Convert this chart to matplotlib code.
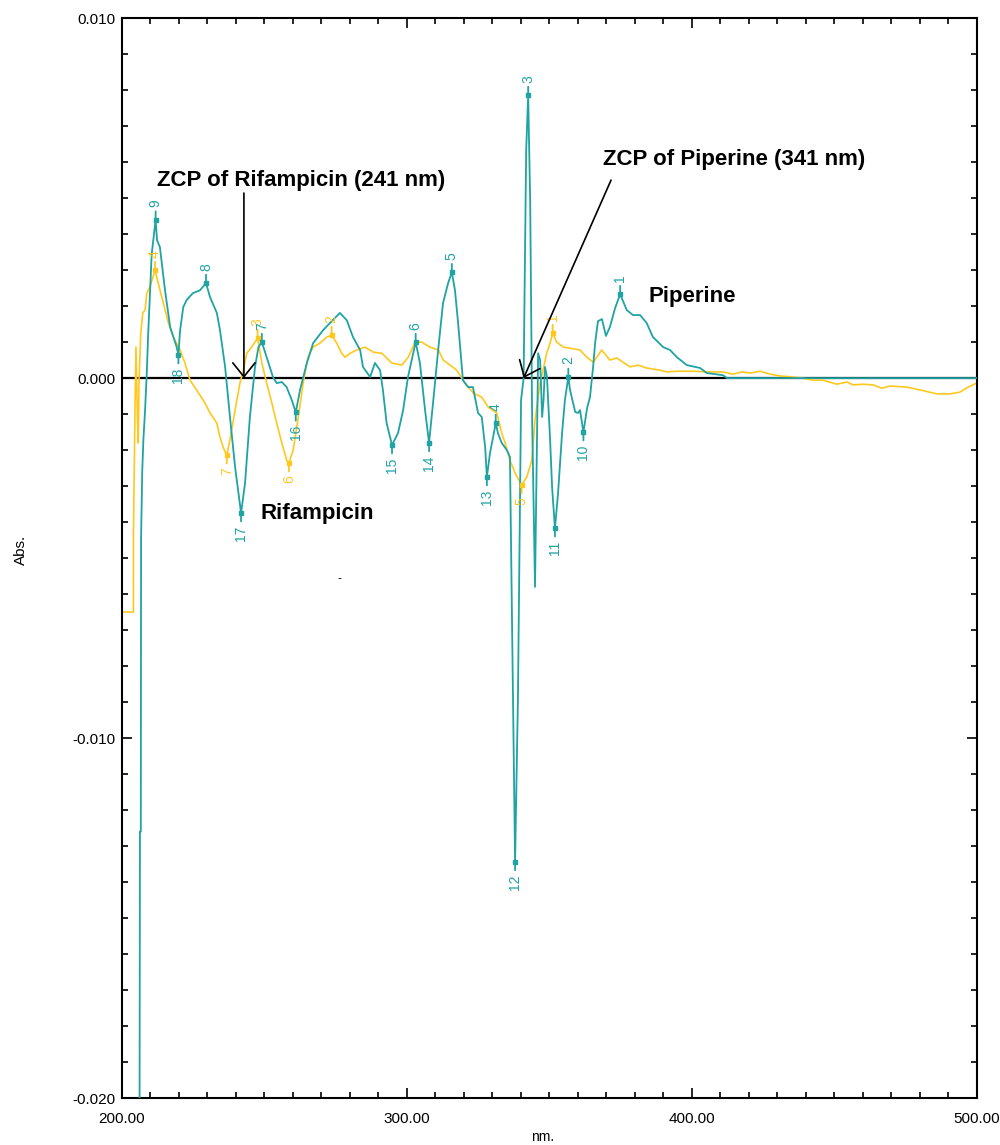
import matplotlib
matplotlib.use("Agg")
import matplotlib.pyplot as plt
from matplotlib.ticker import MultipleLocator, FixedLocator, FuncFormatter

# first derivative spectrum of the mixture (teal) and of rifampicin (yellow)
teal_nm = [206.0, 206.3, 206.6, 206.7, 207.1, 207.5, 208.1, 208.7, 209.2, 209.8, 210.4, 211.8,
           212.3, 213.3, 215.1, 216.9, 219.2, 219.8, 220.4, 221.5, 222.7, 224.9, 227.4, 229.5,
           230.9, 233.3, 234.4, 236.2, 237.9, 239.7, 241.8, 243.2, 244.9, 246.7, 247.9, 249.1,
           250.8, 253.0, 254.3, 256.1, 257.8, 259.6, 261.0, 262.5, 264.9, 267.1, 270.6, 273.0,
           276.5, 278.9, 281.1, 283.6, 284.6, 287.1, 288.8, 290.6, 291.6, 292.9, 294.8, 296.9,
           298.7, 300.4, 303.1, 304.6, 306.4, 307.8, 309.2, 311.0, 312.7, 314.5, 315.8, 316.9,
           318.0, 319.7, 321.5, 323.2, 325.0, 326.3, 327.5, 328.1, 329.2, 330.3, 331.2, 332.0,
           333.3, 335.1, 336.2, 337.3, 338.0, 339.0, 340.1, 341.0, 341.9, 342.6, 343.3, 344.0,
           345.0, 346.1, 346.8, 347.5, 348.0, 348.5, 349.2, 350.3, 351.0, 352.0, 353.1, 354.5,
           355.5, 356.7, 357.3, 359.1, 360.1, 360.8, 362.0, 363.3, 364.3, 365.4, 366.1, 367.1,
           368.5, 369.9, 371.3, 373.1, 374.9, 377.2, 379.4, 381.9, 384.2, 386.4, 390.0, 392.4,
           394.8, 398.3, 403.0, 405.3, 411.0, 412.4, 500.0]
teal_abs = [-0.0300, -0.0126, -0.0126, -0.00444, -0.00261, -0.00172, -0.00089, 0.00014, 0.00125,
            0.0023, 0.00342, 0.0044, 0.00383, 0.00364, 0.00244, 0.00142, 0.00086, 0.00064,
            0.00133, 0.00197, 0.00217, 0.00236, 0.00244, 0.00264, 0.00225, 0.00181, 0.00133,
            0.00031, -0.00108, -0.00247, -0.00375, -0.00292, -0.00108, 0.00031, 0.00086, 0.0010,
            0.00058, 0.00003, -0.00014, -0.00011, -0.00025, -0.00061, -0.00095, -0.00033, 0.00042,
            0.00097, 0.00133, 0.00153, 0.00181, 0.00161, 0.00114, 0.00078, 0.00031, 0.00003,
            0.00042, 0.00022, -0.00033, -0.00125, -0.00186, -0.00153, -0.00089, 0.00003, 0.0010,
            0.00042, -0.00089, -0.0018, -0.00069, 0.00078, 0.00208, 0.00264, 0.00294, 0.00244,
            0.00153, -0.00006, -0.00025, -0.00025, -0.00097, -0.00108, -0.00192, -0.00275,
            -0.00208, -0.00164, -0.00125, -0.00153, -0.0018, -0.0020, -0.00219, -0.00894,
            -0.01344, -0.00894, -0.00061, 0.0, 0.00633, 0.00786, 0.00494, -0.00117, -0.0058,
            0.00069, 0.0005, -0.00108, -0.00061, 0.00031, 0.00003, -0.00172, -0.00303, -0.00417,
            -0.00319, -0.00153, -0.00061, 0.00003, -0.00033, -0.00094, -0.00097, -0.00089, -0.0015,
            -0.00083, -0.00053, 0.00031, 0.00097, 0.00158, 0.00164, 0.00117, 0.00142, 0.00194,
            0.00233, 0.00189, 0.00175, 0.00175, 0.00153, 0.00114, 0.00086, 0.00078, 0.00058,
            0.00036, 0.00028, 0.00014, 0.00008, 0.0, 0.0]

yellow_nm = [200.0, 204.0, 204.0, 204.6, 204.9, 205.4, 205.7, 206.0, 206.6, 207.3, 208.1, 208.7,
             209.8, 211.6, 212.7, 214.5, 216.3, 218.0, 220.4, 222.1, 223.9, 226.2, 229.1, 230.9,
             233.3, 234.4, 235.6, 236.8, 237.9, 239.7, 241.4, 242.6, 243.8, 245.5, 247.6, 249.1,
             250.8, 252.6, 254.3, 256.1, 257.8, 258.6, 260.1, 261.9, 263.6, 265.3, 267.1, 269.5,
             271.9, 273.6, 275.4, 277.1, 278.3, 280.1, 282.4, 285.3, 288.2, 291.2, 294.7, 298.2,
             300.5, 302.9, 305.2, 308.1, 311.1, 312.8, 315.2, 317.5, 320.4, 323.4, 326.3, 328.6,
             331.6, 333.3, 334.5, 336.2, 338.0, 340.3, 342.1, 343.9, 345.0, 346.8, 349.1, 350.3,
             351.2, 352.6, 355.0, 357.3, 360.8, 363.2, 365.5, 368.4, 371.3, 373.7, 375.9, 378.4,
             381.2, 384.2, 388.9, 391.3, 394.8, 400.6, 406.5, 411.0, 414.5, 417.6, 420.5, 424.0,
             427.5, 431.0, 435.6, 439.1, 442.6, 446.1, 451.0, 454.5, 456.7, 460.2, 463.7, 466.7,
             469.7, 475.5, 480.2, 486.1, 490.7, 494.2, 497.1, 500.0]
yellow_abs = [-0.0065, -0.0065, -0.00442, -0.00069, 0.00086, -0.00108, -0.0018, 0.0, 0.00125,
              0.00181, 0.00189, 0.00236, 0.00253, 0.0030, 0.00264, 0.00208, 0.00153, 0.00114,
              0.00078, 0.00042, -0.00006, -0.00033, -0.00069, -0.00097, -0.00125, -0.00164,
              -0.00194, -0.00214, -0.00172, -0.00089, -0.00014, 0.00022, 0.00069, 0.00086, 0.00111,
              0.00042, -0.00014, -0.00069, -0.00125, -0.0018, -0.00228, -0.00236, -0.0020, -0.00108,
              -0.00014, 0.00058, 0.00086, 0.00097, 0.00114, 0.00119, 0.00097, 0.00069, 0.00058,
              0.00069, 0.00078, 0.00086, 0.00072, 0.00069, 0.00042, 0.00036, 0.00058, 0.0010,
              0.0010, 0.00086, 0.00078, 0.0005, 0.00036, 0.00022, -0.00014, -0.00042, -0.00053,
              -0.00081, -0.00097, -0.00153, -0.0018, -0.00228, -0.00264, -0.00297, -0.00275,
              -0.00228, -0.00117, -0.00014, 0.00069, 0.00097, 0.00125, 0.0010, 0.00086, 0.00083,
              0.00078, 0.00058, 0.00044, 0.00078, 0.0005, 0.00056, 0.00044, 0.00031, 0.00036,
              0.00028, 0.00022, 0.00017, 0.00019, 0.00019, 0.00017, 0.00017, 0.00011, 0.00017,
              0.00014, 0.00019, 0.00011, 0.00006, 0.00003, 0.0, -0.00006, -0.00006, -0.00017,
              -0.00011, -0.00019, -0.00017, -0.00019, -0.00028, -0.00022, -0.00025, -0.00033,
              -0.00044, -0.00044, -0.00039, -0.00025, -0.00014]

# peak pick tables: label, wavelength, value
teal_peak_labels = ["1", "2", "3", "4", "5", "6", "7", "8", "9"]
teal_peak_nm = [374.9, 356.7, 342.6, 331.2, 315.8, 303.1, 249.1, 229.5, 211.8]
teal_peak_abs = [0.00233, 0.00003, 0.00786, -0.00125, 0.00294, 0.0010, 0.0010, 0.00264, 0.0044]
teal_valley_labels = ["10", "11", "12", "13", "14", "15", "16", "17", "18"]
teal_valley_nm = [362.0, 352.0, 338.0, 328.1, 307.8, 294.8, 261.0, 241.8, 219.8]
teal_valley_abs = [-0.0015, -0.00417, -0.01344, -0.00275, -0.0018, -0.00186, -0.00095, -0.00375, 0.00064]

yellow_peak_labels = ["1", "2", "3", "4"]
yellow_peak_nm = [351.2, 273.6, 247.6, 211.6]
yellow_peak_abs = [0.00125, 0.00119, 0.00111, 0.0030]
yellow_valley_labels = ["5", "6", "7"]
yellow_valley_nm = [340.3, 258.6, 236.8]
yellow_valley_abs = [-0.00297, -0.00236, -0.00214]

TEAL = "#1fa3a3"
YELLOW = "#ffc81e"
FONT = "Liberation Sans"

fig = plt.figure(figsize=(10, 11.45), dpi=100)
ax = fig.add_axes([0.122, 0.041, 0.8545, 0.9432])

ax.axhline(0, color="black", lw=1.6, zorder=1)
ax.plot(yellow_nm, yellow_abs, color=YELLOW, lw=1.2, zorder=2)
ax.plot(teal_nm, teal_abs, color=TEAL, lw=1.3, zorder=3)


def mark(xs, ys, labels, color, above):
    ax.plot(xs, ys, "s", color=color, ms=3.5, zorder=4)
    for x, y, lab in zip(xs, ys, labels):
        ax.annotate(lab, xy=(x, y), xytext=(0, 9 if above else -9), textcoords="offset points",
                    rotation=90, ha="center", va="bottom" if above else "top",
                    color=color, fontsize=10, family=FONT,
                    arrowprops=dict(arrowstyle="-", color=color, lw=1.3,
                                    relpos=(0.5, 0.0 if above else 1.0),
                                    shrinkA=1, shrinkB=0))


mark(yellow_peak_nm, yellow_peak_abs, yellow_peak_labels, YELLOW, True)
mark(yellow_valley_nm, yellow_valley_abs, yellow_valley_labels, YELLOW, False)
mark(teal_peak_nm, teal_peak_abs, teal_peak_labels, TEAL, True)
mark(teal_valley_nm, teal_valley_abs, teal_valley_labels, TEAL, False)

# zero crossing arrows and labels
arrow = dict(arrowstyle="->,head_length=1.0,head_width=0.8", color="black", lw=1.2,
             mutation_scale=10, shrinkA=0, shrinkB=0)
ax.annotate("", xy=(242.8, 0.0), xytext=(242.8, 0.00514), arrowprops=arrow)
ax.annotate("", xy=(341.0, 0.0), xytext=(371.7, 0.0055), arrowprops=arrow)

bold = dict(fontsize=16, fontweight="bold", family=FONT, va="center", ha="left")
ax.text(212.3, 0.0055, "ZCP of Rifampicin (241 nm)", **bold)
ax.text(368.9, 0.00606, "ZCP of Piperine (341 nm)", **bold)
ax.text(384.7, 0.00228, "Piperine", **bold)
ax.text(248.5, -0.00375, "Rifampicin", **bold)
ax.text(276.5, -0.00555, "-", fontsize=8, ha="center", va="center")

ax.set_xlim(200, 500)
ax.set_ylim(-0.020, 0.010)
ax.xaxis.set_major_locator(FixedLocator([200, 300, 400, 500]))
ax.xaxis.set_minor_locator(MultipleLocator(10))
ax.yaxis.set_major_locator(MultipleLocator(0.010))
ax.yaxis.set_minor_locator(MultipleLocator(0.001))
ax.xaxis.set_major_formatter(FuncFormatter(lambda v, p: f"{v:.2f}"))
ax.yaxis.set_major_formatter(FuncFormatter(lambda v, p: f"{v:.3f}" if abs(v) > 1e-9 else "0.000"))
ax.tick_params(which="both", direction="in", top=True, right=True, width=1.2, colors="black")
ax.tick_params(which="major", length=7)
ax.tick_params(which="minor", length=4)
ax.tick_params(axis="x", pad=10, labelsize=11)
ax.tick_params(axis="y", pad=5, labelsize=11)
for lab in ax.get_xticklabels() + ax.get_yticklabels():
    lab.set_family(FONT)
for spine in ax.spines.values():
    spine.set_linewidth(1.5)

fig.text(0.021, 1 - 550 / 1145, "Abs.", rotation=90, ha="center", va="center", fontsize=11, family=FONT)
fig.text(0.543, 1 - 1137 / 1145, "nm.", ha="center", va="center", fontsize=10, family=FONT)

fig.savefig("out.png", dpi=100, facecolor="white")
